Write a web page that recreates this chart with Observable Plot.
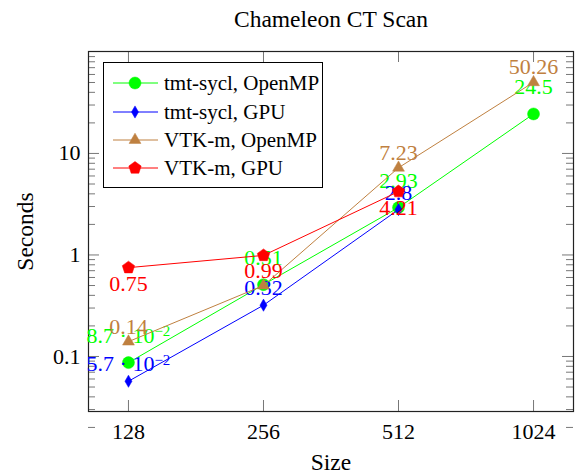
<!DOCTYPE html>
<html><head><meta charset="utf-8">
<script src="https://cdn.jsdelivr.net/npm/d3@7"></script>
<script src="https://cdn.jsdelivr.net/npm/@observablehq/plot@0.6"></script>
<style>
body{margin:0;background:#fff;}
#wrap{position:relative;width:576px;height:475px;font-family:"Liberation Serif",serif;}
#legend{position:absolute;left:103px;top:62px;width:220px;height:126px;border:1px solid #000;background:#fff;box-sizing:border-box;}
.row{position:absolute;left:0;height:28px;display:flex;align-items:center;font-size:21px;white-space:nowrap;}
.row svg{display:block;}
</style></head><body><div id="wrap"></div>
<script>
// ---- data ----
const title = "Chameleon CT Scan";
const xLabel = "Size";
const yLabel = "Seconds";
const sizes = [128, 256, 512, 1024];
const seriesNames = ["tmt-sycl, OpenMP", "tmt-sycl, GPU", "VTK-m, OpenMP", "VTK-m, GPU"];
const tmtOpenMP = [0.087, 0.51, 2.93, 24.5];
const tmtGPU = [0.057, 0.32, 2.8];
const vtkOpenMP = [0.14, 0.5, 7.23, 50.26];
const vtkGPU = [0.75, 0.99, 4.21];
const xTicks = [128, 256, 512, 1024];
const yTicks = [0.1, 1, 10];
const yTickLabels = ["0.1", "1", "10"];

// ---- styles ----
const W = 576, H = 475, mL = 88, mR = 3, mT = 51, mB = 64;
const plotW = W - mL - mR, plotH = H - mT - mB;
const font = "Liberation Serif";
const colors = ["#00ff00", "#0000ff", "#bf8040", "#ff0000"];
const pentagon = {draw(ctx, size) {
  const r = Math.sqrt(size / Math.PI);
  for (let i = 0; i < 5; i++) {
    const a = -Math.PI / 2 + i * 2 * Math.PI / 5;
    const x = r * Math.cos(a), y = r * Math.sin(a);
    i ? ctx.lineTo(x, y) : ctx.moveTo(x, y);
  }
  ctx.closePath();
}};
const symbols = ["circle", "diamond", "triangle", pentagon];
const radii = [6, 3.7, 4.4, 6.5];
const labelDy = [-27, -17, -15, 16];

function fmt(v) {
  if (v < 0.1) {
    const e = Math.floor(Math.log10(v));
    const m = +(v / 10 ** e).toFixed(2);
    return `${m} · 10^${e < 0 ? "−" : ""}${Math.abs(e)}`;
  }
  return String(v);
}

const allValues = [tmtOpenMP, tmtGPU, vtkOpenMP, vtkGPU];
const series = allValues.map((vals, i) => vals.map((v, j) => ({size: sizes[j], value: v, series: seriesNames[i], label: fmt(v)})));

// minor ticks on the log y axis
const yMinor = [];
for (let e = -2; e <= 1; e++) for (let k = 2; k <= 9; k++) yMinor.push(k * 10 ** e);

const marks = [];
marks.push(Plot.tickY(yTicks, {y: d => d, insetRight: plotW - 11, stroke: "#777"}));
marks.push(Plot.tickY(yTicks, {y: d => d, insetLeft: plotW - 11, stroke: "#777"}));
marks.push(Plot.tickY(yMinor, {y: d => d, insetRight: plotW - 7, stroke: "#777"}));
marks.push(Plot.tickY(yMinor, {y: d => d, insetLeft: plotW - 7, stroke: "#777"}));
marks.push(Plot.tickX(xTicks, {x: d => d, insetTop: plotH - 11, stroke: "#777"}));
marks.push(Plot.tickX(xTicks, {x: d => d, insetBottom: plotH - 11, stroke: "#777"}));
marks.push(Plot.frame({stroke: "#222", strokeWidth: 1.2}));

series.forEach((data, i) => {
  marks.push(Plot.line(data, {x: "size", y: "value", stroke: colors[i], strokeWidth: 1}));
  marks.push(Plot.dot(data, {x: "size", y: "value", fill: colors[i], stroke: colors[i], strokeWidth: 0.5, symbol: symbols[i], r: radii[i]}));
  // the VTK-m OpenMP label at 256 is fully hidden beneath the red "0.99" in the original
  const lab = data.filter(d => !(i === 2 && d.size === 256));
  marks.push(Plot.text(lab, {x: "size", y: "value", text: "label", fill: colors[i], dy: labelDy[i], fontSize: 22, fontFamily: font}));
});

marks.push(Plot.axisX(xTicks, {anchor: "bottom", tickSize: 0, tickPadding: 12, fontSize: 22, fontFamily: font, fill: "#000", tickFormat: d => String(d), label: null}));
marks.push(Plot.axisY(yTicks, {anchor: "left", tickSize: 0, tickPadding: 8, fontSize: 22, fontFamily: font, fill: "#000", tickFormat: d => yTickLabels[yTicks.indexOf(d)], label: null}));
marks.push(Plot.text([title], {frameAnchor: "top", lineAnchor: "middle", textAnchor: "middle", dy: -32, text: d => d, fontSize: 23.5, fontFamily: font, fill: "#000"}));
marks.push(Plot.text([xLabel], {frameAnchor: "bottom", lineAnchor: "middle", textAnchor: "middle", dy: 51, text: d => d, fontSize: 23.5, fontFamily: font, fill: "#000"}));
marks.push(Plot.text([yLabel], {frameAnchor: "left", lineAnchor: "middle", textAnchor: "middle", dx: -63, rotate: -90, text: d => d, fontSize: 23.5, fontFamily: font, fill: "#000"}));

const chart = Plot.plot({
  width: W, height: H,
  marginLeft: mL, marginRight: mR, marginTop: mT, marginBottom: mB,
  style: {fontFamily: font, background: "#fff"},
  x: {type: "log", base: 2, domain: [128 * 2 ** -0.296, 1024 * 2 ** 0.296]},
  y: {type: "log", domain: [0.0287, 101]},
  marks
});

// turn "m · 10^e" labels into a real superscript
d3.select(chart).selectAll("text").each(function () {
  const t = this.textContent;
  if (!t.includes("^")) return;
  const [base, sup] = t.split("^");
  const el = d3.select(this);
  const tsp = el.select("tspan");
  const target = tsp.empty() ? el : tsp;
  target.text(base);
  target.append("tspan").attr("dy", "-0.42em").attr("font-size", "15px").text(sup);
});

const wrap = document.getElementById("wrap");
wrap.appendChild(chart);

// legend
const legend = document.createElement("div");
legend.id = "legend";
const rowTops = [6, 35, 63, 91];
seriesNames.forEach((name, i) => {
  const row = document.createElement("div");
  row.className = "row";
  row.style.top = rowTops[i] + "px";
  const svg = d3.create("svg").attr("width", 60).attr("height", 28);
  svg.append("line").attr("x1", 9).attr("x2", 54).attr("y1", 14).attr("y2", 14).attr("stroke", colors[i]);
  const symType = {circle: d3.symbolCircle, diamond: d3.symbolDiamond, triangle: d3.symbolTriangle}[symbols[i]] || symbols[i];
  svg.append("path").attr("transform", "translate(31,14)")
    .attr("d", d3.symbol(symType, Math.PI * radii[i] ** 2)())
    .attr("fill", colors[i]).attr("stroke", colors[i]).attr("stroke-width", 0.5);
  row.appendChild(svg.node());
  const span = document.createElement("span");
  span.textContent = name;
  row.appendChild(span);
  legend.appendChild(row);
});
wrap.appendChild(legend);
</script>
</body></html>
